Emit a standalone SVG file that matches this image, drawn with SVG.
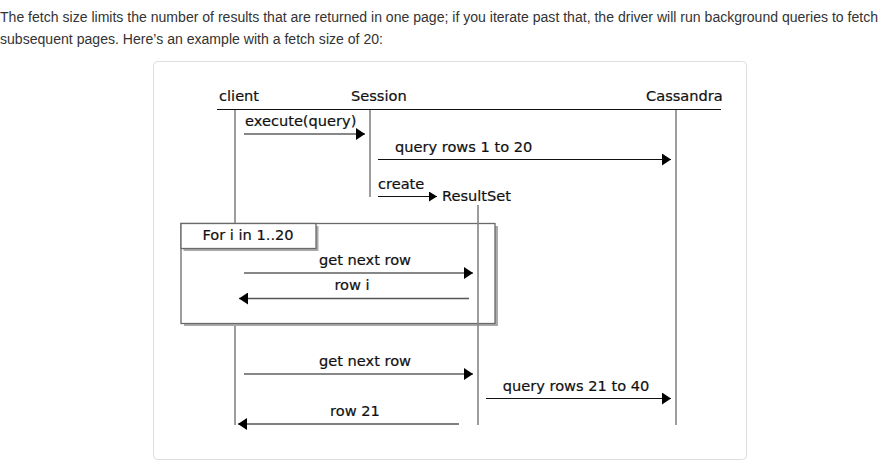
<svg xmlns="http://www.w3.org/2000/svg" width="889" height="463" viewBox="0 0 889 463">
<defs>
<style>
.p{font-family:"Liberation Sans",Arial,sans-serif;font-size:14px;fill:#333}
.t{font-family:"DejaVu Sans",sans-serif;font-size:14.6px;fill:#111;stroke:#111;stroke-width:0.2}
.life{stroke:#858585;stroke-width:1.6;fill:none}
.msg{stroke:#111;stroke-width:1.2;fill:none}
.ret{stroke:#555;stroke-width:1.4;fill:none}
.box{fill:#fff;stroke:#6a6a6a;stroke-width:1.3}
.shadow{fill:#aaa}
</style>
<marker id="ah" viewBox="0 0 9 12" refX="9" refY="6" markerWidth="9" markerHeight="12" markerUnits="userSpaceOnUse" orient="auto">
<path d="M0,0 L9,6 L0,12 Z" fill="#000"/>
</marker>
<marker id="ahs" viewBox="0 0 8 10" refX="8" refY="5" markerWidth="8" markerHeight="10" markerUnits="userSpaceOnUse" orient="auto">
<path d="M0,0 L8,5 L0,10 Z" fill="#000"/>
</marker>
</defs>
<rect width="889" height="463" fill="#fff"/>
<text class="p" x="0" y="22" textLength="878" lengthAdjust="spacingAndGlyphs">The fetch size limits the number of results that are returned in one page; if you iterate past that, the driver will run background queries to fetch</text>
<text class="p" x="0" y="44" textLength="383" lengthAdjust="spacingAndGlyphs">subsequent pages. Here’s an example with a fetch size of 20:</text>
<rect x="153.5" y="61.5" width="593" height="398" rx="4" fill="#fff" stroke="#ddd"/>

<g id="header">
<line x1="217" y1="109.5" x2="721" y2="109.5" stroke="#111" stroke-width="1.2"/>
</g>
<g id="client">
<text class="t" x="219" y="101">client</text>
<line class="life" x1="235" y1="110" x2="235" y2="223"/>
<line class="life" x1="235" y1="261" x2="235" y2="425"/>
</g>
<g id="session">
<text class="t" x="351" y="101">Session</text>
<line class="life" x1="370" y1="110" x2="370" y2="197"/>
</g>
<g id="cassandra">
<text class="t" x="646" y="101">Cassandra</text>
<line class="life" x1="676" y1="110" x2="676" y2="425"/>
</g>
<g id="loop">
<rect class="shadow" x="184" y="226" width="314" height="100"/>
<rect class="box" x="181" y="223.5" width="314" height="100"/>
<rect class="shadow" x="183.5" y="226" width="135" height="25"/>
<rect class="box" x="181" y="223.5" width="135" height="25"/>
<text class="t" x="248" y="240" text-anchor="middle">For i in 1..20</text>
</g>
<g id="resultset">
<text class="t" x="442" y="201">ResultSet</text>
<line class="life" x1="478" y1="205" x2="478" y2="425"/>
</g>
<g id="connectors">
<line class="msg" x1="244" y1="134" x2="365" y2="134" marker-end="url(#ah)"/>
<text class="t" x="245" y="126">execute(query)</text>
<line class="msg" x1="378" y1="159.5" x2="671" y2="159.5" marker-end="url(#ah)"/>
<text class="t" x="395" y="152">query rows 1 to 20</text>
<line class="msg" x1="378" y1="196.5" x2="437" y2="196.5" marker-end="url(#ahs)"/>
<text class="t" x="378" y="189">create</text>
<line class="msg" x1="244" y1="273" x2="473" y2="273" marker-end="url(#ah)"/>
<text class="t" x="365" y="265" text-anchor="middle">get next row</text>
<line class="ret" x1="469" y1="298.5" x2="239" y2="298.5" marker-end="url(#ah)"/>
<text class="t" x="352" y="290" text-anchor="middle">row i</text>
<line class="msg" x1="244" y1="374" x2="473" y2="374" marker-end="url(#ah)"/>
<text class="t" x="365" y="366" text-anchor="middle">get next row</text>
<line class="msg" x1="486" y1="398.5" x2="671" y2="398.5" marker-end="url(#ah)"/>
<text class="t" x="576" y="391" text-anchor="middle">query rows 21 to 40</text>
<line class="ret" x1="459" y1="424" x2="238" y2="424" marker-end="url(#ah)"/>
<text class="t" x="355" y="416" text-anchor="middle">row 21</text>
</g>
</svg>
